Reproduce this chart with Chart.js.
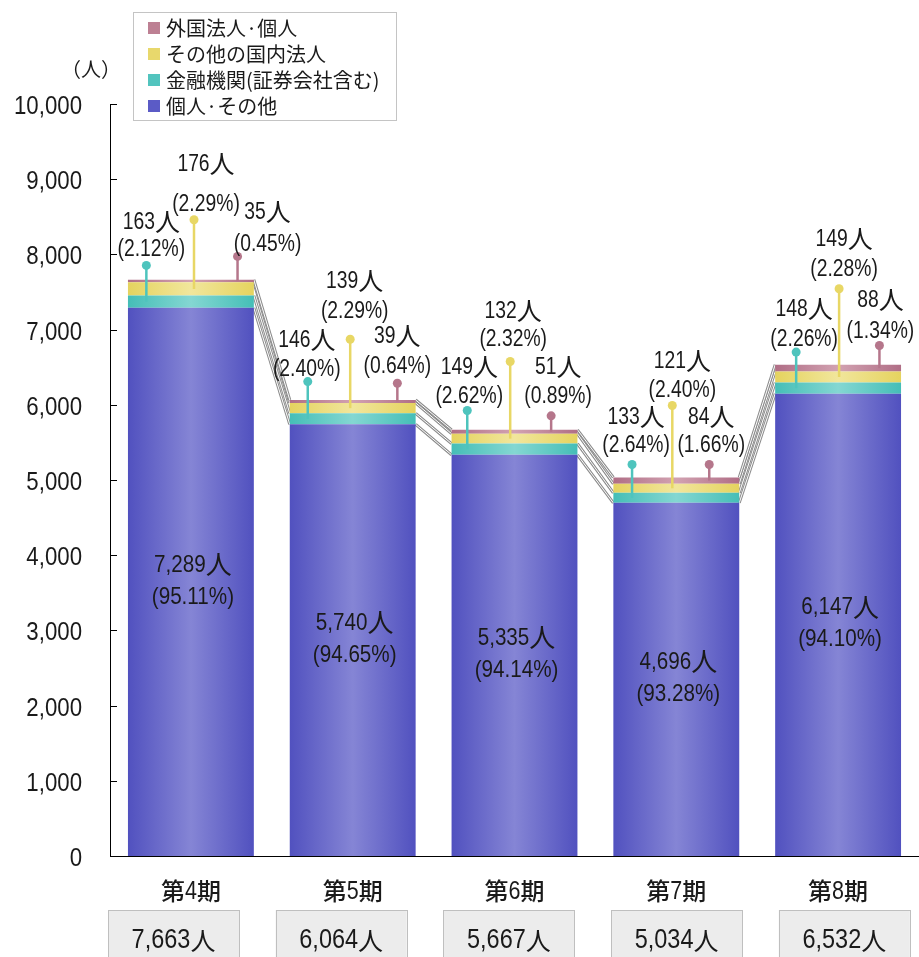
<!DOCTYPE html>
<html><head><meta charset="utf-8">
<script src="https://cdn.jsdelivr.net/npm/chart.js@4.4.1/dist/chart.umd.min.js"></script>
<style>html,body{margin:0;padding:0;background:#fff;}canvas{display:block;}</style>
</head><body>
<canvas id="c" width="919" height="957"></canvas>
<script>
// ---- data ----
const periods = ['第4期', '第5期', '第6期', '第7期', '第8期'];
const individuals = [7289, 5740, 5335, 4696, 6147];       // 個人・その他
const financial = [163, 146, 149, 133, 148];              // 金融機関(証券会社含む)
const domesticCorp = [176, 139, 132, 121, 149];           // その他の国内法人
const foreign = [35, 39, 51, 84, 88];                     // 外国法人・個人
const individualsPct = ['95.11', '94.65', '94.14', '93.28', '94.10'];
const financialPct = ['2.12', '2.40', '2.62', '2.64', '2.26'];
const domesticPct = ['2.29', '2.29', '2.32', '2.40', '2.28'];
const foreignPct = ['0.45', '0.64', '0.89', '1.66', '1.34'];
const totals = [7663, 6064, 5667, 5034, 6532];
const yMin = 0, yMax = 10000, yStep = 1000;
const unitLabel = '（人）';
const seriesNames = ['個人·その他', '金融機関(証券会社含む)', 'その他の国内法人', '外国法人·個人'];

// ---- styles / layout ----
const BAR_PCT = 0.778;
const colors = {
  blue: { edge: '#5151bf', mid: '#8585d5', solid: '#5b5bc6' },
  teal: { edge: '#45beb7', mid: '#84d7d2', solid: '#52c4be' },
  yellow: { edge: '#e5d35f', mid: '#f1e69c', solid: '#e8d86c' },
  pink: { edge: '#b06e86', mid: '#d2a2b1', solid: '#bd8093' }
};
const stemColors = { teal: '#4ec4bd', yellow: '#e8d765', pink: '#b5768b' };
// callout layout (pixels): stem anchor, lift above bar top, label shift, label height above dot, line gap
const calloutLayout = {
  teal:   { from: 'left',   off: [18.4, 18, 15.7, 18.7, 21],      lift: [14.3, 18.4, 19.3, 13, 12.7], ldx: [5, -1, 2, 4, 8],  ldy: [16.7, 13.3, 14.7, 20, 13.3], gap: [27, 29, 29.5, 27.5, 30] },
  yellow: { from: 'center', off: [3.1, -2.5, -4.3, -4, 1],        lift: [60, 60.7, 68.3, 72, 76],     ldx: [12, 4.5, 3, 10, 5], ldy: [16, 29, 22.7, 16, 20],   gap: [40, 30, 28, 29, 30] },
  pink:   { from: 'right',  off: [-16.3, -18.3, -26.3, -30, -21.6], lift: [23.3, 16.7, 14, 13, 19.3], ldx: [30, 0, 7, 2, 1],  ldy: [12.7, 18, 20, 20, 14.7],   gap: [32, 30, 29.5, 27.5, 31] }
};
const TEXT = '#1a1a1a';
const LAT = '"Liberation Sans", Arial, sans-serif';
const CJK = '"Noto Sans CJK JP", "Noto Sans CJK SC", sans-serif';

function fmt(n) { return n.toLocaleString('en-US'); }
function isCJK(ch) { return /[\u3000-\u30ff\u3400-\u9fff\uff00-\uffef]/.test(ch); }
function runs(text) {
  const out = [];
  for (const ch of text) {
    const c = isCJK(ch);
    if (out.length && out[out.length - 1].c === c) out[out.length - 1].t += ch;
    else out.push({ t: ch, c });
  }
  return out;
}
function drawMixed(ctx, text, x, y, st) {
  const rs = runs(text);
  let total = 0;
  const w8 = st.weight ? st.weight + ' ' : '';
  rs.forEach(r => {
    ctx.font = w8 + (r.c ? `${st.cjk}px ${CJK}` : `${st.lat}px ${LAT}`);
    r.w = ctx.measureText(r.t).width * (r.c ? 1 : st.sx);
    total += r.w;
  });
  let cx = st.align === 'right' ? x - total : (st.align === 'left' ? x : x - total / 2);
  ctx.textBaseline = 'middle';
  ctx.textAlign = 'left';
  ctx.fillStyle = st.color || TEXT;
  rs.forEach(r => {
    ctx.font = w8 + (r.c ? `${st.cjk}px ${CJK}` : `${st.lat}px ${LAT}`);
    ctx.save();
    ctx.translate(cx, y + (r.c ? 0 : 1));
    ctx.scale(r.c ? 1 : st.sx, 1);
    ctx.fillText(r.t, 0, 0);
    ctx.restore();
    cx += r.w;
  });
}

function grad(c) {
  return (ctx) => {
    const chart = ctx.chart, xs = chart.scales && chart.scales.x;
    if (!xs || ctx.dataIndex === undefined || !chart.chartArea) return c.edge;
    const cx = xs.getPixelForValue(ctx.dataIndex);
    const w = (xs.width / periods.length) * BAR_PCT;
    const g = chart.ctx.createLinearGradient(cx - w / 2, 0, cx + w / 2, 0);
    g.addColorStop(0, c.edge);
    g.addColorStop(0.5, c.mid);
    g.addColorStop(1, c.edge);
    return g;
  };
}

const seriesLines = {
  id: 'seriesLines',
  beforeDatasetsDraw(chart) {
    const ctx = chart.ctx;
    const metas = [0, 1, 2, 3].map(i => chart.getDatasetMeta(i));
    ctx.save();
    metas.forEach(m => {
      for (let i = 0; i < m.data.length - 1; i++) {
        const a = m.data[i], b = m.data[i + 1];
        const x1 = a.x + a.width / 2, x2 = b.x - b.width / 2;
        [[3, '#8c8c8c'], [1, '#ffffff']].forEach(([w, col]) => {
          ctx.beginPath();
          ctx.lineWidth = w; ctx.strokeStyle = col;
          ctx.moveTo(x1, a.y); ctx.lineTo(x2, b.y);
          ctx.stroke();
        });
      }
    });
    ctx.restore();
  }
};

const annotations = {
  id: 'annotations',
  afterDatasetsDraw(chart) {
    const ctx = chart.ctx;
    const mBlue = chart.getDatasetMeta(0), mTeal = chart.getDatasetMeta(1),
          mYel = chart.getDatasetMeta(2), mPink = chart.getDatasetMeta(3);
    // labels inside blue segments
    mBlue.data.forEach((el, i) => {
      const mid = (el.y + el.base) / 2 - 2;
      drawMixed(ctx, fmt(individuals[i]) + '人', el.x + 2, mid - 16, { lat: 24, sx: 0.86, cjk: 26 });
      drawMixed(ctx, '(' + individualsPct[i] + '%)', el.x + 2, mid + 16, { lat: 24, sx: 0.86, cjk: 26 });
    });
    const series = [
      { key: 'teal', meta: mTeal, vals: financial, pct: financialPct },
      { key: 'yellow', meta: mYel, vals: domesticCorp, pct: domesticPct },
      { key: 'pink', meta: mPink, vals: foreign, pct: foreignPct }
    ];
    series.forEach(s => {
      const L = calloutLayout[s.key];
      s.meta.data.forEach((el, i) => {
        const top = mPink.data[i].y;
        const left = el.x - el.width / 2, right = el.x + el.width / 2;
        const base = L.from === 'left' ? left : (L.from === 'right' ? right : el.x);
        const dx = base + L.off[i];
        const dy = top - L.lift[i];
        const sy = (el.y + el.base) / 2;
        ctx.save();
        ctx.strokeStyle = stemColors[s.key];
        ctx.lineWidth = 2.5;
        ctx.beginPath(); ctx.moveTo(dx, sy); ctx.lineTo(dx, dy); ctx.stroke();
        ctx.fillStyle = stemColors[s.key];
        ctx.beginPath(); ctx.arc(dx, dy, 4.5, 0, Math.PI * 2); ctx.fill();
        ctx.restore();
        const lx = dx + L.ldx[i];
        const l2 = dy - L.ldy[i];
        const l1 = l2 - L.gap[i];
        const st = { lat: 23, sx: 0.84, cjk: 25 };
        drawMixed(ctx, s.vals[i] + '人', lx, l1, st);
        drawMixed(ctx, '(' + s.pct[i] + '%)', lx, l2, st);
      });
    });
  },
  afterDraw(chart) {
    const ctx = chart.ctx, ys = chart.scales.y, xs = chart.scales.x, ca = chart.chartArea;
    ctx.save();
    // y ticks (inward) and labels
    ctx.strokeStyle = '#000'; ctx.lineWidth = 1;
    ys.ticks.forEach(t => {
      const py = Math.round(ys.getPixelForValue(t.value)) + 0.5;
      if (t.value !== yMin) {
        ctx.beginPath(); ctx.moveTo(ca.left, py); ctx.lineTo(ca.left + 7, py); ctx.stroke();
      }
      drawMixed(ctx, fmt(t.value), ca.left - 28, py + 1.5, { lat: 25, sx: 0.89, cjk: 25, align: 'right' });
    });
    // unit
    ctx.font = `20px ${CJK}`; ctx.fillStyle = TEXT; ctx.textAlign = 'center'; ctx.textBaseline = 'middle';
    ctx.fillText(unitLabel, ca.left - 19, 69);
    // category labels and total boxes
    periods.forEach((p, i) => {
      const cx = xs.getPixelForValue(i);
      drawMixed(ctx, p, cx, 891, { lat: 25, sx: 0.86, cjk: 24, weight: 500 });
      const bl = ca.left - 2 + i * 167.7, bw = 131;
      ctx.fillStyle = '#ececec'; ctx.strokeStyle = '#bfbfbf'; ctx.lineWidth = 1;
      ctx.fillRect(bl, 910, bw, 60);
      ctx.strokeRect(Math.round(bl) + 0.5, 910.5, bw, 60);
      drawMixed(ctx, fmt(totals[i]) + '人', bl + bw / 2, 940, { lat: 27, sx: 0.87, cjk: 25 });
    });
    // legend
    const lx = ca.left + 23, ly = 12, lw = 263, lh = 108;
    ctx.fillStyle = '#fff'; ctx.fillRect(lx, ly, lw, lh);
    ctx.strokeStyle = '#c4c4c4'; ctx.strokeRect(lx + 0.5, ly + 0.5, lw, lh);
    const order = [3, 2, 1, 0];
    const sw = [colors.blue, colors.teal, colors.yellow, colors.pink];
    order.forEach((di, k) => {
      const cy = ly + 16 + k * 26;
      ctx.fillStyle = sw[di].solid;
      ctx.fillRect(lx + 15, cy - 6, 12, 12);
      ctx.font = `20px ${CJK}`; ctx.fillStyle = TEXT; ctx.textAlign = 'left'; ctx.textBaseline = 'middle';
      ctx.fillText(chart.data.datasets[di].label, lx + 33, cy);
    });
    ctx.restore();
  }
};

new Chart(document.getElementById('c'), {
  type: 'bar',
  data: {
    labels: periods,
    datasets: [
      { label: seriesNames[0], data: individuals, backgroundColor: grad(colors.blue) },
      { label: seriesNames[1], data: financial, backgroundColor: grad(colors.teal) },
      { label: seriesNames[2], data: domesticCorp, backgroundColor: grad(colors.yellow) },
      { label: seriesNames[3], data: foreign, backgroundColor: grad(colors.pink) }
    ].map(d => Object.assign(d, { borderWidth: 0, categoryPercentage: 1, barPercentage: BAR_PCT }))
  },
  options: {
    responsive: false,
    animation: false,
    devicePixelRatio: 1,
    layout: { padding: { top: 104, left: 0, right: 0, bottom: 0 } },
    plugins: { legend: { display: false }, tooltip: { enabled: false } },
    scales: {
      x: {
        stacked: true, offset: true,
        grid: { display: false, drawTicks: false },
        ticks: { display: false },
        border: { display: true, color: '#000', width: 1 },
        afterFit(s) { s.height = 101; }
      },
      y: {
        stacked: true, min: yMin, max: yMax,
        ticks: { display: false, stepSize: yStep },
        grid: { display: false, drawTicks: false },
        border: { display: true, color: '#000', width: 1 },
        afterFit(s) { s.width = 110; }
      }
    }
  },
  plugins: [seriesLines, annotations]
});
</script>
</body></html>
